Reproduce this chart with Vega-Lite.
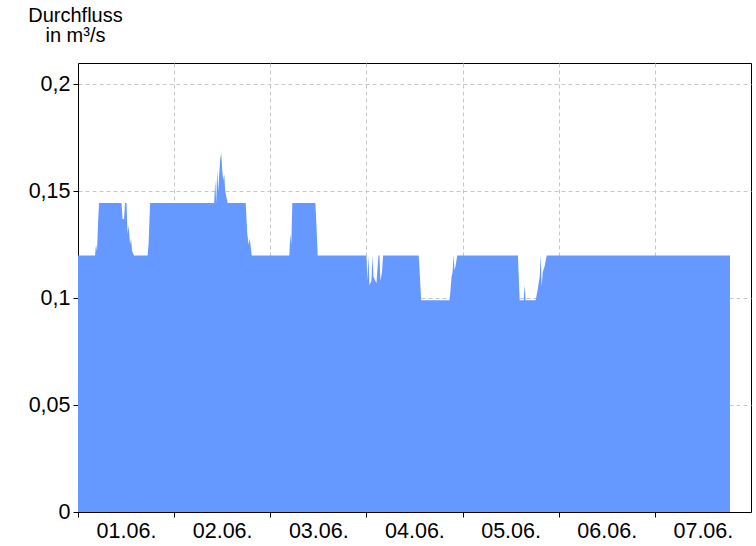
{
  "$schema": "https://vega.github.io/schema/vega-lite/v6.json",
  "autosize": "none",
  "width": 673,
  "height": 449,
  "padding": {"left": 78, "top": 63, "right": 5, "bottom": 34},
  "background": "white",
  "config": {
    "view": {"stroke": "black", "strokeWidth": 1},
    "font": "Liberation Sans",
    "axis": {
      "domainColor": "black",
      "tickColor": "black",
      "tickSize": 5,
      "labelColor": "black",
      "labelFont": "Liberation Sans",
      "labelFontSize": 21.5,
      "gridColor": "#c8c8c8",
      "gridDash": [4, 3],
      "gridWidth": 1,
      "zindex": 1
    }
  },
  "data": {
    "values": [
      {"t": "2024-06-01T00:00", "q": 0.12},
      {"t": "2024-06-01T04:15", "q": 0.12},
      {"t": "2024-06-01T04:30", "q": 0.125},
      {"t": "2024-06-01T04:45", "q": 0.122},
      {"t": "2024-06-01T05:00", "q": 0.135},
      {"t": "2024-06-01T05:15", "q": 0.1445},
      {"t": "2024-06-01T10:52", "q": 0.1445},
      {"t": "2024-06-01T11:07", "q": 0.137},
      {"t": "2024-06-01T11:30", "q": 0.137},
      {"t": "2024-06-01T11:45", "q": 0.1445},
      {"t": "2024-06-01T12:07", "q": 0.1445},
      {"t": "2024-06-01T12:22", "q": 0.13},
      {"t": "2024-06-01T12:37", "q": 0.134},
      {"t": "2024-06-01T13:00", "q": 0.125},
      {"t": "2024-06-01T13:15", "q": 0.128},
      {"t": "2024-06-01T13:30", "q": 0.122},
      {"t": "2024-06-01T14:00", "q": 0.12},
      {"t": "2024-06-01T17:22", "q": 0.12},
      {"t": "2024-06-01T17:37", "q": 0.125},
      {"t": "2024-06-01T18:00", "q": 0.1445},
      {"t": "2024-06-02T10:00", "q": 0.1445},
      {"t": "2024-06-02T10:15", "q": 0.155},
      {"t": "2024-06-02T10:30", "q": 0.1445},
      {"t": "2024-06-02T10:45", "q": 0.16},
      {"t": "2024-06-02T11:00", "q": 0.15},
      {"t": "2024-06-02T11:15", "q": 0.158},
      {"t": "2024-06-02T11:30", "q": 0.165},
      {"t": "2024-06-02T11:45", "q": 0.168},
      {"t": "2024-06-02T12:00", "q": 0.16},
      {"t": "2024-06-02T12:15", "q": 0.155},
      {"t": "2024-06-02T12:30", "q": 0.158},
      {"t": "2024-06-02T12:45", "q": 0.15},
      {"t": "2024-06-02T13:22", "q": 0.1445},
      {"t": "2024-06-02T17:52", "q": 0.1445},
      {"t": "2024-06-02T18:15", "q": 0.13},
      {"t": "2024-06-02T18:37", "q": 0.125},
      {"t": "2024-06-02T18:52", "q": 0.128},
      {"t": "2024-06-02T19:22", "q": 0.12},
      {"t": "2024-06-03T04:45", "q": 0.12},
      {"t": "2024-06-03T05:00", "q": 0.13},
      {"t": "2024-06-03T05:15", "q": 0.125},
      {"t": "2024-06-03T05:30", "q": 0.1445},
      {"t": "2024-06-03T11:15", "q": 0.1445},
      {"t": "2024-06-03T11:30", "q": 0.135},
      {"t": "2024-06-03T11:50", "q": 0.12},
      {"t": "2024-06-04T00:00", "q": 0.12},
      {"t": "2024-06-04T00:15", "q": 0.108},
      {"t": "2024-06-04T00:30", "q": 0.12},
      {"t": "2024-06-04T00:45", "q": 0.106},
      {"t": "2024-06-04T01:15", "q": 0.108},
      {"t": "2024-06-04T01:30", "q": 0.12},
      {"t": "2024-06-04T01:45", "q": 0.11},
      {"t": "2024-06-04T02:30", "q": 0.107},
      {"t": "2024-06-04T03:00", "q": 0.12},
      {"t": "2024-06-04T03:15", "q": 0.12},
      {"t": "2024-06-04T03:30", "q": 0.108},
      {"t": "2024-06-04T03:52", "q": 0.112},
      {"t": "2024-06-04T04:10", "q": 0.12},
      {"t": "2024-06-04T13:04", "q": 0.12},
      {"t": "2024-06-04T13:40", "q": 0.099},
      {"t": "2024-06-04T20:45", "q": 0.099},
      {"t": "2024-06-04T21:00", "q": 0.104},
      {"t": "2024-06-04T21:15", "q": 0.11},
      {"t": "2024-06-04T21:30", "q": 0.112},
      {"t": "2024-06-04T21:45", "q": 0.12},
      {"t": "2024-06-04T22:00", "q": 0.113},
      {"t": "2024-06-04T22:15", "q": 0.115},
      {"t": "2024-06-04T22:40", "q": 0.12},
      {"t": "2024-06-05T13:49", "q": 0.12},
      {"t": "2024-06-05T14:15", "q": 0.099},
      {"t": "2024-06-05T15:15", "q": 0.099},
      {"t": "2024-06-05T15:30", "q": 0.106},
      {"t": "2024-06-05T15:45", "q": 0.099},
      {"t": "2024-06-05T18:15", "q": 0.099},
      {"t": "2024-06-05T18:45", "q": 0.104},
      {"t": "2024-06-05T19:15", "q": 0.11},
      {"t": "2024-06-05T19:30", "q": 0.12},
      {"t": "2024-06-05T19:45", "q": 0.105},
      {"t": "2024-06-05T20:00", "q": 0.112},
      {"t": "2024-06-05T20:30", "q": 0.115},
      {"t": "2024-06-05T21:00", "q": 0.12},
      {"t": "2024-06-07T18:45", "q": 0.12}
    ]
  },
  "mark": {"type": "area", "color": "#6699ff", "opacity": 1, "interpolate": "linear"},
  "encoding": {
    "x": {
      "field": "t",
      "type": "temporal",
      "scale": {"domain": [{"year": 2024, "month": 6, "date": 1}, {"year": 2024, "month": 6, "date": 8}], "nice": false},
      "axis": {
        "title": null,
        "values": [
          {"year": 2024, "month": 6, "date": 1},
          {"year": 2024, "month": 6, "date": 2},
          {"year": 2024, "month": 6, "date": 3},
          {"year": 2024, "month": 6, "date": 4},
          {"year": 2024, "month": 6, "date": 5},
          {"year": 2024, "month": 6, "date": 6},
          {"year": 2024, "month": 6, "date": 7}
        ],
        "labelExpr": "timeFormat(datum.value, '%d.%m.')",
        "labelOffset": 48,
        "labelPadding": 3,
        "labelFlush": false,
        "labelOverlap": false
      }
    },
    "y": {
      "field": "q",
      "type": "quantitative",
      "scale": {"domain": [0, 0.21], "nice": false, "zero": true},
      "axis": {
        "title": ["Durchfluss", "in m³/s"],
        "titleAngle": 0,
        "titleAlign": "center",
        "titleBaseline": "alphabetic",
        "titleX": -3,
        "titleY": -42,
        "titleFontSize": 20,
        "titleFontWeight": "normal",
        "titleFont": "Liberation Sans",
        "titleColor": "black",
        "titleLineHeight": 20,
        "values": [0, 0.05, 0.1, 0.15, 0.2],
        "labelExpr": "replace(toString(datum.value), '.', ',')",
        "labelPadding": 3
      }
    }
  }
}
